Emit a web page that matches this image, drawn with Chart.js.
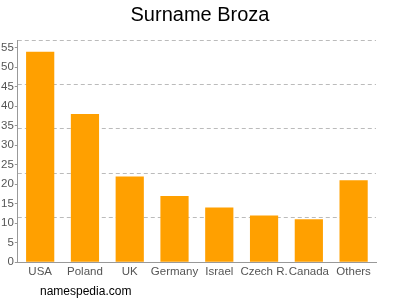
<!DOCTYPE html>
<html>
<head>
<meta charset="utf-8">
<script src="https://cdn.jsdelivr.net/npm/chart.js@4"></script>
<style>
html,body{margin:0;padding:0;background:#fff;}
#wrap{position:relative;width:400px;height:300px;}
#foot{position:absolute;left:40px;top:284px;font:12px "Liberation Sans",Arial,sans-serif;color:#000;}
</style>
</head>
<body>
<div id="wrap"><canvas id="c" width="400" height="300"></canvas><div id="foot">namespedia.com</div></div>
<script>
const categories = ["USA","Poland","UK","Germany","Israel","Czech R.","Canada","Others"];
const counts = [54,38,22,17,14,12,11,21];
const yTickLabels = [0,5,10,15,20,25,30,35,40,45,50,55];
const yMax = 57;
const gridStep = 11.4;
const FONT = 'Liberation Sans';

new Chart(document.getElementById('c'), {
  type: 'bar',
  data: {
    labels: categories,
    datasets: [{
      data: counts,
      backgroundColor: '#ffa000',
      borderWidth: 0,
      categoryPercentage: 0.63,
      barPercentage: 1.0
    }]
  },
  options: {
    responsive: false,
    animation: false,
    devicePixelRatio: 1,
    layout: { padding: { left: 0, right: 0, top: 0, bottom: 18 } },
    plugins: {
      legend: { display: false },
      tooltip: { enabled: false },
      title: {
        display: true,
        text: 'Surname Broza',
        color: '#000',
        font: { family: FONT, size: 20, weight: 'normal' },
        padding: { top: 3, bottom: 13 }
      }
    },
    scales: {
      x: {
        grid: { display: false, drawTicks: false },
        border: { color: '#999' },
        ticks: { color: '#555', font: { family: FONT, size: 11.5 }, autoSkip: false, maxRotation: 0, padding: 3 }
      },
      y: {
        min: 0, max: yMax,
        border: { color: '#999' },
        grid: { drawOnChartArea: false, tickLength: 3, color: '#999' },
        ticks: { color: '#555', font: { family: FONT, size: 11.5 }, padding: 1 },
        afterBuildTicks: (s) => { s.ticks = yTickLabels.map(v => ({ value: v })); }
      },
      yg: {
        position: 'right',
        min: 0, max: yMax,
        border: { display: false, dash: [4, 3] },
        grid: { color: '#bbb', drawTicks: false },
        ticks: { display: false },
        afterBuildTicks: (s) => { s.ticks = [1,2,3,4,5].map(i => ({ value: i * gridStep })); },
        afterFit: (s) => { s.width = 24; }
      }
    }
  }
});
</script>
</body>
</html>
